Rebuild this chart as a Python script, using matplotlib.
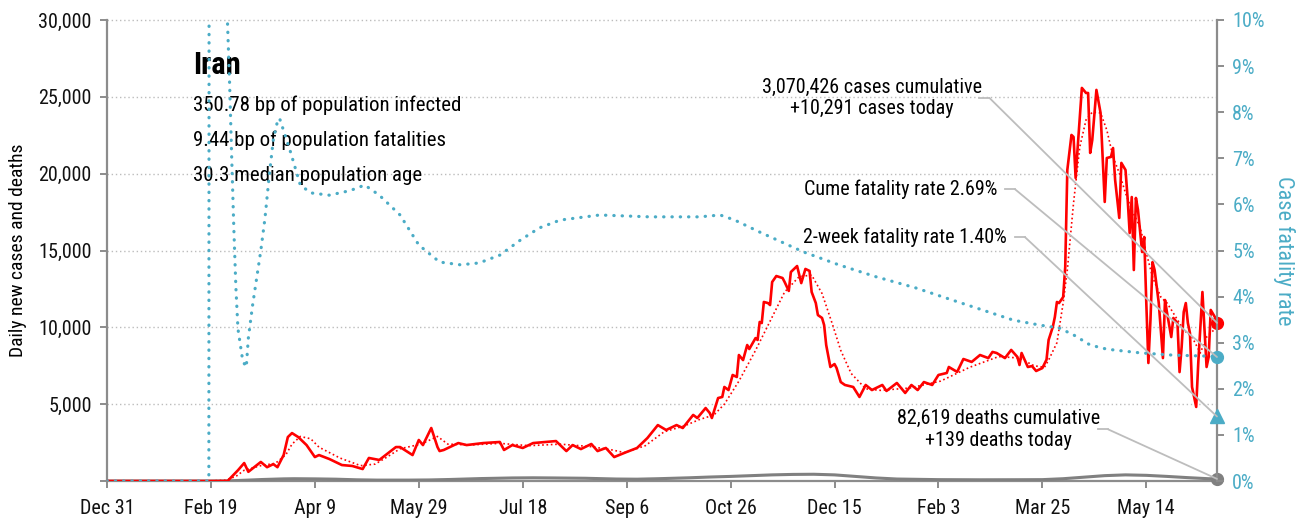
import numpy as np
import matplotlib
matplotlib.use("Agg")
import matplotlib.pyplot as plt
from matplotlib.ticker import FuncFormatter, FixedLocator

plt.rcParams['font.family'] = ['Liberation Sans Narrow', 'Roboto Condensed', 'DejaVu Sans']

START = np.datetime64('2019-12-31')
LAST_DAY = 534

# (days since Dec 31, 2019, daily new cases)
cases = [
    (0, 0), (49, 0), (58, 0), (63, 700), (66, 1170), (68, 600), (74, 1240), (77, 900),
    (80, 1100), (82, 900), (85, 1700), (87, 2860), (89, 3120), (92, 2860), (96, 2340),
    (100, 1560), (102, 1690), (107, 1430), (113, 1040), (118, 980), (123, 780), (126, 1500),
    (131, 1370), (136, 1890), (139, 2210), (141, 2210), (147, 1690), (150, 2670), (152, 2340),
    (156, 3450), (159, 2210), (160, 1950), (162, 2020), (169, 2470), (173, 2340), (181, 2470),
    (189, 2540), (191, 2020), (195, 2340), (200, 2150), (205, 2470), (216, 2600), (221, 1950),
    (224, 2340), (228, 2080), (233, 2410), (236, 1950), (240, 2150), (244, 1560), (250, 1890),
    (255, 2150), (260, 2800), (265, 3640), (269, 3320), (274, 3640), (277, 3450), (282, 4300),
    (284, 4100), (288, 4750), (290, 4420), (291, 4100), (294, 5400), (296, 5470), (297, 6120),
    (299, 5920), (301, 6900), (303, 6770), (304, 8200), (306, 7870), (308, 8850), (309, 8590),
    (312, 9300), (313, 9180), (314, 10350), (315, 10280), (316, 11650), (318, 11580),
    (319, 11450), (320, 12950), (322, 13340), (325, 13210), (326, 12950), (328, 12370),
    (329, 13600), (332, 13990), (334, 12880), (336, 13800), (338, 13670), (339, 12300),
    (341, 11580), (342, 10800), (344, 10610), (345, 10150), (346, 8850), (348, 7420),
    (350, 7610), (351, 7350), (353, 6440), (355, 6250), (359, 6120), (362, 5470), (365, 6250),
    (368, 5920), (373, 6250), (375, 5860), (380, 6380), (384, 5730), (387, 6250), (390, 5920),
    (393, 6440), (397, 6250), (400, 6900), (404, 7030), (405, 7420), (409, 7100), (412, 7940),
    (416, 7750), (420, 8200), (424, 8000), (426, 8400), (428, 8330), (432, 8000), (435, 8530),
    (438, 8070), (439, 7550), (440, 8330), (443, 7420), (445, 7480), (447, 7160), (450, 7350),
    (452, 7900), (453, 9180), (455, 10020), (456, 10670), (457, 11650), (458, 11580),
    (460, 11970), (461, 13930), (462, 20240), (464, 22520), (465, 22390), (466, 19720),
    (467, 21740), (469, 25580), (471, 25250), (472, 25250), (473, 21350), (474, 22190),
    (476, 25450), (478, 23950), (480, 18160), (481, 21020), (483, 21090), (484, 21670),
    (485, 19590), (487, 17120), (488, 20700), (490, 20240), (491, 18420), (492, 16140),
    (493, 18480), (494, 13730), (495, 18420), (496, 17640), (498, 14900), (499, 15880),
    (500, 11580), (501, 7680), (502, 10480), (503, 14250), (504, 13730), (505, 12630),
    (506, 11580), (508, 8000), (509, 11780), (510, 10930), (512, 9370), (513, 10610),
    (515, 10280), (516, 7090), (517, 8720), (518, 11000), (519, 11580), (520, 10280),
    (521, 9630), (522, 6120), (524, 4820), (525, 7680), (527, 12300), (528, 9830),
    (529, 7420), (530, 8070), (531, 11130), (533, 10670), (534, 10291),
]

# 7-day average of new cases
cases_avg = [
    (0, 0), (49, 0), (57, 50), (62, 300), (66, 700), (74, 1000), (81, 1150), (86, 1700),
    (89, 2400), (93, 2900), (98, 2750), (102, 2200), (112, 1500), (122, 1000), (129, 1100),
    (134, 1500), (141, 2100), (151, 2400), (159, 2900), (164, 2400), (175, 2350), (189, 2450),
    (203, 2300), (218, 2400), (232, 2250), (242, 2050), (249, 1850), (259, 2300), (268, 3200),
    (278, 3600), (285, 4000), (292, 4300), (297, 5000), (304, 6500), (312, 8500), (319, 10400),
    (326, 12300), (333, 13300), (339, 13400), (344, 12200), (349, 10200), (353, 8500),
    (358, 7000), (365, 6000), (372, 5900), (386, 6050), (401, 6500), (415, 7400), (429, 8100),
    (439, 8000), (446, 7500), (451, 7400), (453, 7870), (457, 9000), (460, 11580),
    (462, 13730), (465, 18100), (468, 21740), (471, 23500), (474, 24000), (478, 23950),
    (481, 22840), (484, 21090), (487, 20040), (490, 18740), (493, 17640), (497, 16530),
    (500, 14840), (503, 13280), (507, 11970), (510, 11580), (513, 10930), (518, 9830),
    (522, 9370), (526, 8330), (529, 9370), (534, 10020),
]

# daily new deaths
deaths = [
    (0, 0), (49, 0), (55, 5), (60, 20), (66, 50), (75, 100), (85, 140), (90, 150), (100, 140),
    (110, 120), (120, 80), (130, 60), (145, 60), (155, 70), (165, 100), (180, 160), (195, 200),
    (205, 210), (215, 200), (230, 180), (245, 130), (255, 120), (265, 150), (280, 210),
    (290, 260), (300, 300), (310, 350), (320, 400), (330, 430), (340, 440), (350, 400),
    (360, 300), (370, 200), (380, 130), (400, 90), (420, 80), (440, 85), (450, 90), (460, 150),
    (470, 250), (480, 350), (490, 400), (500, 370), (510, 300), (520, 220), (530, 150),
    (534, 139),
]

# cumulative case fatality rate, percent
cfr = [
    (0, 0), (49, 0), (50, 100), (57, 20), (58, 9.9), (59, 8.6), (60, 7.0), (61, 5.5),
    (62, 4.2), (63, 3.3), (64, 3.0), (65, 2.7), (66, 2.55), (67, 2.47), (68, 3.1), (70, 3.8),
    (72, 4.4), (74, 5.0), (76, 5.7), (78, 6.6), (80, 7.4), (82, 7.8), (83, 7.87), (88, 7.18),
    (93, 6.42), (98, 6.25), (107, 6.2), (117, 6.3), (124, 6.42), (131, 6.2), (141, 5.77),
    (150, 5.12), (160, 4.75), (170, 4.69), (179, 4.73), (189, 4.9), (199, 5.23), (208, 5.49),
    (218, 5.66), (237, 5.77), (261, 5.73), (285, 5.73), (295, 5.77), (302, 5.66), (314, 5.4),
    (335, 4.97), (352, 4.69), (370, 4.43), (389, 4.19), (405, 3.95), (436, 3.49), (449, 3.38),
    (458, 3.32), (465, 3.17), (473, 2.95), (481, 2.86), (497, 2.78), (513, 2.73), (529, 2.71),
    (534, 2.69),
]

tick_days = [0, 50, 100, 150, 200, 250, 300, 350, 400, 450, 500]
left_ticks = [0, 5000, 10000, 15000, 20000, 25000, 30000]
right_ticks = [0, 1, 2, 3, 4, 5, 6, 7, 8, 9, 10]

country = "Iran"
stats = ["350.78 bp of population infected",
         "9.44 bp of population fatalities",
         "30.3 median population age"]
total_cases = 3070426
new_cases = 10291
total_deaths = 82619
new_deaths = 139
cume_cfr = 2.69
week2_cfr = 1.40

RED = '#ff0000'
TEAL = '#4bacc6'
GREY = '#808080'
SPINE = '#8c8c8c'
LEADER = '#bdbdbd'
FS = 14.5


def to_dates(days):
    return START + np.array(days, dtype='timedelta64[D]')


def date_label(x, pos):
    d = matplotlib.dates.num2date(x)
    return f"{d:%b} {d.day}"


fig = plt.figure(figsize=(12.97, 5.22), dpi=100)
ax = fig.add_axes([0.0825, 0.0785, 0.8558, 0.8832])
ax2 = ax.twinx()

cd, cv = zip(*cases)
ad, av = zip(*cases_avg)
dd, dv = zip(*deaths)
fd, fv = zip(*cfr)

ax.plot(to_dates(dd), dv, color=GREY, lw=2.2, solid_joinstyle='round', zorder=3)
ax.plot(to_dates(cd), cv, color=RED, lw=1.9, solid_joinstyle='round', zorder=4)
ax.plot(to_dates(ad), av, color=RED, lw=1.2, linestyle=(0, (1, 1.6)), zorder=5)
ax2.plot(to_dates(fd), fv, color=TEAL, lw=2.3, linestyle=(0, (0.1, 2.5)),
         dash_capstyle='round', zorder=3)

x0 = matplotlib.dates.date2num(to_dates([0])[0])
x_last = matplotlib.dates.date2num(to_dates([LAST_DAY])[0])
ax.set_xlim(x0, x_last)
ax.set_ylim(0, 30000)
ax2.set_ylim(0, 10)

ax.xaxis.set_major_locator(FixedLocator(matplotlib.dates.date2num(to_dates(tick_days))))
ax.xaxis.set_major_formatter(FuncFormatter(date_label))
ax.set_yticks(left_ticks)
ax.set_yticklabels(['' if v == 0 else f"{v:,}" for v in left_ticks])
ax2.set_yticks(right_ticks)
ax2.set_yticklabels([f"{v}%" for v in right_ticks])

for a in (ax, ax2):
    for side in ('left', 'right', 'bottom'):
        a.spines[side].set_color(SPINE)
        a.spines[side].set_linewidth(1.6)
    a.spines['top'].set_visible(False)
ax.spines['right'].set_visible(False)
ax2.spines['left'].set_visible(False)
ax2.spines['bottom'].set_visible(False)

ax.tick_params(axis='both', colors=SPINE, width=1.4, length=5, labelsize=FS,
               labelcolor='#111111', pad=6)
ax.tick_params(axis='x', pad=8)
ax2.tick_params(axis='y', colors=SPINE, width=1.4, length=5, labelsize=FS,
                labelcolor=TEAL, pad=6)

for v in left_ticks[1:]:
    ax.axhline(v, color='#bcbcbc', lw=1.0, linestyle=(0, (1, 2)), zorder=1, clip_on=False)

ax.set_ylabel("Daily new cases and deaths", fontsize=FS - 0.5, labelpad=8)
ax2.set_ylabel("Case fatality rate", fontsize=FS + 1.5, color=TEAL, rotation=270,
               labelpad=22)

ax.text(0.0775, 0.902, country, transform=ax.transAxes, fontsize=22, fontweight='semibold',
        va='center', ha='left')
for i, line in enumerate(stats):
    ax.text(0.0775, 0.816 - i * 0.077, line, transform=ax.transAxes, fontsize=15,
            va='center', ha='left')

# end-of-series markers
ax.plot([x_last], [new_cases], 'o', color=RED, ms=8.5, clip_on=False, zorder=6)
ax.plot([x_last], [new_deaths], 'o', color=GREY, ms=8.5, clip_on=False, zorder=6)
ax2.plot([x_last], [cume_cfr], 'o', color=TEAL, ms=8.5, clip_on=False, zorder=6)
ax2.plot([x_last], [week2_cfr], '^', color=TEAL, ms=9.5, clip_on=False, zorder=6)

# labels with leader lines: (text, x, y, ha, line start x, line start y, target, transform)
notes = [
    (f"{total_cases:,} cases cumulative\n+{new_cases:,} cases today", 0.689, 0.831, 'center',
     0.786, 0.831, new_cases, ax.transData),
    (f"Cume fatality rate {cume_cfr:.2f}%", 0.802, 0.633, 'right',
     0.809, 0.633, cume_cfr, ax2.transData),
    (f"2-week fatality rate {week2_cfr:.2f}%", 0.811, 0.529, 'right',
     0.818, 0.529, week2_cfr, ax2.transData),
    (f"{total_deaths:,} deaths cumulative\n+{new_deaths} deaths today", 0.803, 0.112, 'center',
     0.893, 0.112, new_deaths, ax.transData),
]
for text, tx, ty, ha, lx, ly, target, trans in notes:
    ax2.text(tx, ty, text, transform=ax2.transAxes, fontsize=FS, ha=ha, va='center',
             multialignment='center', linespacing=1.2, zorder=7)
    ax2.plot([lx, lx + 0.009], [ly, ly], color=LEADER, lw=1.3, transform=ax2.transAxes,
             clip_on=False, zorder=7)
    ax2.annotate('', xy=(x_last, target), xycoords=trans, xytext=(lx + 0.009, ly),
                 textcoords='axes fraction',
                 arrowprops=dict(arrowstyle='-', color=LEADER, lw=1.3, shrinkA=0, shrinkB=0),
                 zorder=7)

fig.savefig('out.png', dpi=100)
